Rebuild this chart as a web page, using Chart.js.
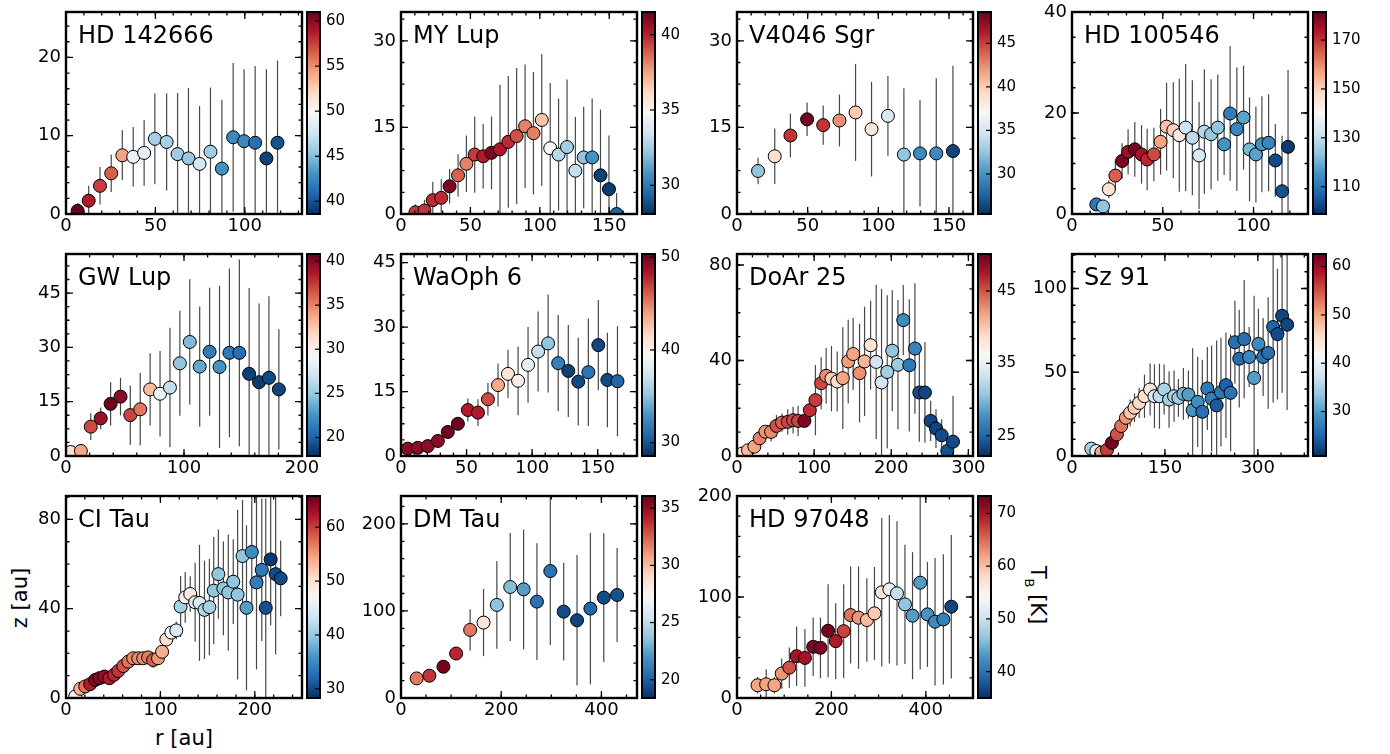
<!DOCTYPE html>
<html>
<head>
<meta charset="utf-8">
<script src="https://cdn.jsdelivr.net/npm/chart.js@4.4.1/dist/chart.umd.min.js"></script>
<style>
body{margin:0;background:#fff;}
#fig{position:relative;width:1390px;height:754px;overflow:hidden;background:#fff;font-family:"DejaVu Sans",sans-serif;}
#fig canvas{position:absolute;}
.lbl{position:absolute;font-size:21px;color:#000;white-space:nowrap;transform:translate(-50%,-50%);}
.lbl sub{font-size:13px;}
</style>
</head>
<body>
<div id="fig">
  <div class="lbl" style="left:20px;top:598px;transform:translate(-50%,-50%) rotate(-90deg);">z [au]</div>
  <div class="lbl" style="left:184px;top:738px;">r [au]</div>
  <div class="lbl" style="left:1036px;top:595px;transform:translate(-50%,-50%) rotate(90deg);">T<sub>B</sub> [K]</div>
</div>
<script>
// r [au], z [au], z error [au], brightness temperature [K] per source

const hd142666R = [6.5,12.7,19,25.3,31.5,37.6,43.7,49.7,56.3,62.4,68.5,74.7,80.8,87.2,93.5,99.6,105.8,112.1,118.3];
const hd142666Z = [0.4,1.7,3.6,5.2,7.5,7.3,7.8,9.6,9.2,7.65,7.1,6.4,7.95,5.8,9.8,9.3,9.1,7.1,9.1];
const hd142666Err = [1.0,1.9,2.4,2.4,3.2,3.8,4.2,5.8,6.2,7.8,9.0,7.4,8.2,8.8,9.5,9.2,9.8,11.4,10.5];
const hd142666T = [61,58.8,57.6,56.5,54.3,49.1,48.8,46,46,45.8,45.5,47.8,45.8,43,42.6,42.6,41.3,39.3,40];
const hd142666TTicks = [40,45,50,55,60];

const myLupR = [10.4,16.9,22.9,29,35,41.1,47.1,53.1,59.2,65.2,71.3,77.3,83.3,89.4,95.4,101.4,107.5,113.5,119.6,125.6,131.6,137.7,143.7,149.8,155.3];
const myLupZ = [0.3,0.6,2.4,2.8,4.8,6.7,8.7,10.3,10.0,10.6,11.2,12.5,13.5,15.2,14.0,16.3,11.4,10.3,11.6,7.5,9.8,9.8,6.7,4.3,0];
const myLupErr = [1.4,1.85,3.2,3.2,3.0,3.65,4.9,6.6,5.6,6.3,11.2,11.4,11.8,10.7,10.6,11.4,11.3,9.7,11.7,9.3,8.8,10.2,11.4,9.3,3.6];
const myLupT = [39.6,39.6,39.8,39.8,41.1,38.8,38.2,39.5,40.2,41.1,40.2,39.8,39.1,38.2,38.2,36.7,34.8,32.9,32.5,33.2,32.1,30.8,28.5,28.4,29.4];
const myLupTTicks = [30,35,40];

const v4046R = [14.9,26.7,37.8,49.6,61.0,72.5,83.9,95.2,106.8,118.1,129.5,141.0,152.8];
const v4046Z = [7.45,10.0,13.6,16.4,15.4,16.2,17.6,14.7,17.0,10.3,10.5,10.5,10.9];
const v4046Err = [2.3,4.8,3.8,2.9,3.4,4.5,8.4,8.2,6.9,11.5,9.2,13.0,14.8];
const v4046T = [32.4,38.9,45.4,48.1,45.4,42.3,40,38.4,35.1,32.4,29.6,29.6,26.3];
const v4046TTicks = [30,35,40,45];

const hd100546R = [13.4,17.1,20.3,23.9,27.6,30.9,34.6,38.3,41.4,45.1,48.8,52.1,55.8,59.1,62.6,66.3,70.0,72.9,76.6,80.3,83.8,87.1,90.8,94.5,97.8,101.3,104.6,108.3,112.0,115.7,119.0];
const hd100546Z = [1.9,1.5,4.9,7.6,10.5,12.3,12.8,11.8,10.8,11.8,14.3,17.3,16.6,15.6,17.1,15.1,11.6,16.3,15.8,17.1,13.8,19.9,16.8,19.1,12.8,11.8,13.8,14.1,10.6,4.5,13.3];
const hd100546Err = [1,1.2,1.8,3,3.5,4.5,5.4,5.8,6.1,5.3,6.5,8.7,9.5,11.2,12.6,11.4,10.6,12.3,10.9,10.5,6.1,13.3,12.2,10.3,10.3,9.5,9.5,9.6,7.2,11,15.2];
const hd100546T = [110.4,123.6,146,165,179,175.7,179.8,174.9,171.6,167.4,156.7,152.6,150.1,144.3,131.9,129.4,133.5,128.6,124.4,123.6,115.3,111.2,112.9,117.8,121.1,117.8,115.3,112.9,103,103.8,100.5];
const hd100546TTicks = [110,130,150,170];

const gwLupR = [3.9,12.6,21.0,29.4,37.8,46.2,54.5,62.9,71.3,79.7,88.1,96.5,104.9,113.3,121.7,130.1,138.5,146.9,155.2,163.6,172.0,180.4];
const gwLupZ = [1.1,1.4,8.1,10.4,14.4,16.4,11.3,12.9,18.4,17.2,18.9,25.6,31.5,24.7,28.8,24.6,28.5,28.5,22.7,20.4,21.6,18.4];
const gwLupErr = [1,1.4,3.7,3,6,5.2,8.2,10,10,11.8,16.5,14.5,17.3,16.6,17.7,22.4,23.3,25.8,23.7,21.7,22.5,16.6];
const gwLupT = [31,33.9,36.9,39.2,40.6,39.7,37.1,35.5,33,28.7,26.6,24.8,24.3,23.4,21.3,22.5,21.1,20.6,18.6,18.4,19,18.8];
const gwLupTTicks = [20,25,30,35,40];

const waOph6R = [5.1,12.8,20.4,28.1,35.7,43.4,51.0,58.7,66.3,74.0,81.6,89.3,96.9,104.6,112.2,119.9,127.6,135.2,142.9,150.5,157.4,165.1];
const waOph6Z = [1.7,1.9,2.3,3.5,5.6,7.5,10.7,10.1,13.2,16.5,19.1,17.5,21.2,24.3,26.2,21.6,19.8,17.3,19.5,25.8,17.7,17.4];
const waOph6Err = [0.6,0.6,0.7,0.8,1,1.5,2.7,3.1,3.8,5,5.6,8,8.8,9.3,11.4,11.2,10.7,10.2,12.5,10.5,11,12.8];
const waOph6T = [49.3,49.3,49.3,49.3,50.1,50.1,48.2,48.2,46.6,43.6,40.8,40.1,38.6,36.8,35.1,32,29.2,29.6,31.4,29.4,29.6,30.7];
const waOph6TTicks = [30,40,50];

const doAr25R = [6.5,14.3,22.5,29.4,36.8,44.2,51.1,58.4,65.8,72.7,79.2,87.4,94.4,101.7,109.1,115.6,122.5,129.9,137.2,144.2,150.6,158.9,165.4,173.2,180.5,187.4,194.8,201.3,208.7,215.6,223.4,230.7,236.4,243.7,251.1,258.0,265.4,272.7,280.1];
const doAr25Z = [1.0,2.4,3.9,7.4,10.2,10.1,12.6,14.0,14.3,15.0,14.7,14.7,19.2,23.4,30.5,33.6,32.4,31.2,32.6,39.6,42.7,34.7,39.6,46.4,39.4,30.8,35.2,44.1,38.2,56.9,38.0,45.0,26.6,26.6,14.7,11.5,8.7,2.1,6.0];
const doAr25Err = [1,1.5,2,2,2.4,4,4.6,3.8,5.3,5.6,6.3,2.4,5.3,14.7,10.9,11.6,13.7,12.6,21.3,17.5,15.1,20.7,22.9,18.6,32.3,39.2,32.1,25.3,27.1,14.7,27.7,27.3,20.6,21.1,8.4,8.1,6.7,4.9,19.2];
const doAr25T = [38.4,40.6,41.7,43.1,42.3,42.8,45.1,44.5,45.6,45.6,45.6,49.3,46.5,45.9,45.4,42.8,39.8,38.4,41.7,42,41.7,42.6,40.9,38.1,33.4,33.4,31.4,30.6,31.1,27.2,26.1,26.7,23.6,23.3,23.3,23.3,23.6,23.9,23.6];
const doAr25TTicks = [25,35,45];

const sz91R = [31.1,39.2,47.2,56.4,64.4,72.5,79.4,87.0,93.9,100.9,108.4,117.0,126.1,133.1,141.2,148.7,156.7,164.8,171.8,179.8,187.9,194.8,202.9,210.4,218.5,225.4,233.5,240.5,248.5,256.0,263.0,270.0,278.0,286.0,294.0,301.0,308.6,316.7,324.7,331.7,339.2,347.3];
const sz91Z = [4.4,3.0,2.0,3.6,7.9,12.9,17.9,22.8,25.8,28.8,31.7,35.7,39.7,35.7,35.7,39.7,33.7,35.7,34.7,37.1,36.7,27.4,32.3,26.4,40.3,34.3,30.2,38.1,42.3,37.7,67.9,58.1,69.8,59.1,46.6,66.9,59.1,61.5,77.0,72.8,83.7,78.4];
const sz91Err = [1.5,1,1,1.5,2,3,4,5,8,8.5,9,12.9,15.5,19,19.4,14.9,16.9,15.3,11.3,15.5,14.3,37,27,31,24.8,31.6,38.7,32.5,31.5,34.9,24.8,29.2,35.3,17.9,49,21,23.3,33.3,45,39,46,51];
const sz91T = [34.6,39.6,50.1,56.3,61.8,55.1,53,50.9,47.6,46.7,45.9,45,43.8,38.8,36.3,35,34.6,35,34.2,32.1,30,29.2,28.7,25.8,26.7,27.1,24.1,26.7,24.6,26.2,25.8,25.4,25.8,27.9,30,28.3,26.2,25.8,25,22.9,22.5,22.5];
const sz91TTicks = [30,40,50,60];

const ciTauR = [9.8,15.1,20.4,25.6,30.9,35.4,40.7,46.0,50.9,55.4,60.7,66.0,71.2,76.5,81.8,87.0,92.3,97.5,101.8,106.3,111.6,116.8,121.4,126.3,131.6,136.8,141.4,146.7,151.9,156.5,161.4,166.7,171.9,177.2,181.8,187.0,191.2,196.8,201.8,207.4,211.6,216.8,222.1,227.4];
const ciTauZ = [0.7,4.1,5.2,6.2,8.1,8.9,9.6,8.9,10.4,12.1,14.3,16.3,17.8,17.8,17.8,18.2,17.0,17.8,20.7,26.2,29.3,30.3,41.0,45.1,46.6,42.9,42.6,39.5,40.7,48.1,55.5,49.1,47.3,52.1,46.3,63.6,40.4,65.4,51.8,57.4,40.4,62.1,55.5,53.6];
const ciTauErr = [0.5,1,1,1,1.2,1.2,1.2,1.3,1.5,1.5,1.5,1.5,1.8,2,2,2.5,3.5,3,2.5,2.5,3,4,13.7,11.4,8,17.7,26,22,21.6,24,20,21,26,19,38,25.2,37,25,39,32,49,29.5,36,17];
const ciTauT = [47.8,53.8,57.2,62,64.3,64.3,63.6,62,61.3,60.5,59,57.2,56,56,56,56.8,58.3,55.3,53.8,50,47,44,40.7,48.2,48.9,44.8,44.4,41.4,40.7,39.6,39.6,39.6,39.6,39.6,39.6,39.6,36.5,35.1,33.9,33.6,30.6,29,30.2,30.2];
const ciTauTTicks = [30,40,50,60];

const dmTauR = [31.3,56.7,84.7,110,138,164.7,191.3,218,244.7,271.3,298,324.7,351.3,378,404.7,431.3];
const dmTauZ = [22.5,25.6,35.9,51.1,78.2,86.6,106.9,127.5,124.8,110.7,145.8,99.2,89.3,102.7,115.3,118.3];
const dmTauErr = [2,2,3,4,23.7,38.5,50.4,62,68.7,67,85,56,75,87,74,54];
const dmTauT = [31.9,33.6,35.7,34,31.9,28.3,23.7,23.4,22.3,20.7,20.7,19.3,19.1,20.2,19.3,19.5];
const dmTauTTicks = [20,25,30,35];

const hd97048R = [43.5,61.8,79.3,94.7,110.9,126.3,143.9,161.4,176.8,193.0,209.1,226,240.7,257.5,275.1,291.2,306.7,322.8,339,355.8,371.9,388.1,403.5,419.6,437.2,454];
const hd97048Z = [12.6,13.6,12.6,24.2,30.1,41.4,39.7,50.7,49.7,66.6,56.3,66.2,82.1,79.5,77.2,83.8,104.6,107.6,103.6,92.7,81.5,114.2,82.8,75.5,77.8,90.4];
const hd97048Err = [8.3,14.9,8.3,15,20,29.5,28.5,29,30,46,37.4,46.4,48,50.7,41.4,46,73.5,73.5,71.5,59,62.9,86,52,63,64.5,71];
const hd97048T = [61.8,61.8,61.8,62.6,66.4,70.2,70.2,72.2,72.2,72.5,69.5,67.2,64.5,62.6,60.3,59.1,56.4,52.2,49.6,46.5,43.4,43.4,42.7,41.9,41.1,36.5];
const hd97048TTicks = [40,50,60,70];

const panels = [
  {name:'HD 142666', r:hd142666R, z:hd142666Z, err:hd142666Err, t:hd142666T, tTicks:hd142666TTicks, xMax:132, xStep:50, yMax:25.8, yStep:10, tMin:38.6, tMax:61},
  {name:'MY Lup', r:myLupR, z:myLupZ, err:myLupErr, t:myLupT, tTicks:myLupTTicks, xMax:170, xStep:50, yMax:35, yStep:15, tMin:28.1, tMax:41.5},
  {name:'V4046 Sgr', r:v4046R, z:v4046Z, err:v4046Err, t:v4046T, tTicks:v4046TTicks, xMax:167, xStep:50, yMax:35, yStep:15, tMin:25.4, tMax:48.6},
  {name:'HD 100546', r:hd100546R, z:hd100546Z, err:hd100546Err, t:hd100546T, tTicks:hd100546TTicks, xMax:130, xStep:50, yMax:40, yStep:20, tMin:98.8, tMax:181.5},
  {name:'GW Lup', r:gwLupR, z:gwLupZ, err:gwLupErr, t:gwLupT, tTicks:gwLupTTicks, xMax:200, xStep:100, yMax:55.8, yStep:15, tMin:17.9, tMax:40.8},
  {name:'WaOph 6', r:waOph6R, z:waOph6Z, err:waOph6Err, t:waOph6T, tTicks:waOph6TTicks, xMax:180, xStep:50, yMax:47, yStep:15, tMin:28.55, tMax:50.36},
  {name:'DoAr 25', r:doAr25R, z:doAr25Z, err:doAr25Err, t:doAr25T, tTicks:doAr25TTicks, xMax:306, xStep:100, yMax:84.6, yStep:40, tMin:22.2, tMax:50.1},
  {name:'Sz 91', r:sz91R, z:sz91Z, err:sz91Err, t:sz91T, tTicks:sz91TTicks, xMax:381, xStep:150, yMax:120.6, yStep:50, tMin:20.8, tMax:62.6},
  {name:'CI Tau', r:ciTauR, z:ciTauZ, err:ciTauErr, t:ciTauT, tTicks:ciTauTTicks, xMax:250, xStep:100, yMax:90.5, yStep:40, tMin:28.3, tMax:65.8},
  {name:'DM Tau', r:dmTauR, z:dmTauZ, err:dmTauErr, t:dmTauT, tTicks:dmTauTTicks, xMax:471, xStep:200, yMax:232, yStep:100, tMin:18.4, tMax:36.07},
  {name:'HD 97048', r:hd97048R, z:hd97048Z, err:hd97048Err, t:hd97048T, tTicks:hd97048TTicks, xMax:500, xStep:200, yMax:200, yStep:100, tMin:35, tMax:73.3}
];

// RdBu_r, low -> high
const rdbu = ['#053061','#2166ac','#4393c3','#92c5de','#d1e5f0','#f7f7f7','#fddbc7','#f4a582','#d6604d','#b2182b','#67001f'];

function hexRgb(h){
  return [1,3,5].map(i => parseInt(h.substr(i,2),16));
}

function tempColor(t, lo, hi){
  let f = Math.min(1, Math.max(0, (t-lo)/(hi-lo))) * (rdbu.length-1);
  const i = Math.min(rdbu.length-2, Math.floor(f)), w = f - i;
  const a = hexRgb(rdbu[i]), b = hexRgb(rdbu[i+1]);
  const c = a.map((v,k) => Math.round(v + (b[k]-v)*w));
  return 'rgb(' + c.join(',') + ')';
}

function minorCount(step){
  const m = step / Math.pow(10, Math.floor(Math.log10(step)));
  return [1,5,10].some(v => Math.abs(m-v) < 1e-6) ? 5 : 4;
}

const COL_X = [66, 401, 737, 1072];
const ROW_Y = [12, 254, 496];
const FW = 236, FH = 202;
const PAD_L = 60, PAD_T = 12, PAD_R = 24, PAD_B = 32;
const FONT = 'DejaVu Sans';

const errorBars = {
  id: 'errorBars',
  beforeDatasetsDraw(chart){
    const {ctx, chartArea:a, scales:{x, y}} = chart;
    ctx.save();
    ctx.beginPath();
    ctx.rect(a.left, a.top, a.width, a.height);
    ctx.clip();
    ctx.strokeStyle = 'rgba(0,0,0,0.72)';
    ctx.lineWidth = 1.2;
    chart.data.datasets[0].data.forEach(p => {
      const px = x.getPixelForValue(p.x);
      ctx.beginPath();
      ctx.moveTo(px, y.getPixelForValue(p.y - p.e));
      ctx.lineTo(px, y.getPixelForValue(p.y + p.e));
      ctx.stroke();
    });
    ctx.restore();
  }
};

const frameTicks = {
  id: 'frameTicks',
  afterDraw(chart, args, opts){
    const {ctx, chartArea:a, scales} = chart;
    ctx.save();
    ctx.strokeStyle = '#000';
    ctx.lineWidth = 1.3;
    ['x','y'].forEach(id => {
      const s = scales[id];
      const step = s.options.ticks.stepSize;
      const sub = step / minorCount(step);
      const mark = (v, len) => {
        const p = s.getPixelForValue(v);
        ctx.beginPath();
        if(id === 'x'){
          ctx.moveTo(p, a.bottom); ctx.lineTo(p, a.bottom - len);
          ctx.moveTo(p, a.top); ctx.lineTo(p, a.top + len);
        } else {
          ctx.moveTo(a.left, p); ctx.lineTo(a.left + len, p);
          ctx.moveTo(a.right, p); ctx.lineTo(a.right - len, p);
        }
        ctx.stroke();
      };
      for(let k = 0; k*sub <= s.max + 1e-9; k++) mark(k*sub, 3.5);
      s.ticks.forEach(t => mark(t.value, 7));
    });
    ctx.lineWidth = 2.4;
    ctx.strokeRect(a.left, a.top, a.width, a.height);
    ctx.fillStyle = '#000';
    ctx.font = '24px "' + FONT + '"';
    ctx.textBaseline = 'alphabetic';
    ctx.fillText(opts.title, a.left + 12, a.top + 31);
    ctx.restore();
  }
};

const colorbarFill = {
  id: 'colorbarFill',
  beforeDraw(chart){
    const {ctx, chartArea:a} = chart;
    const g = ctx.createLinearGradient(0, a.bottom, 0, a.top);
    rdbu.forEach((c,i) => g.addColorStop(i/(rdbu.length-1), c));
    ctx.save();
    ctx.fillStyle = g;
    ctx.fillRect(a.left, a.top, a.width, a.height);
    ctx.restore();
  },
  afterDraw(chart){
    const {ctx, chartArea:a, scales:{y}} = chart;
    ctx.save();
    ctx.strokeStyle = '#000';
    ctx.lineWidth = 1.2;
    y.ticks.forEach(t => {
      const p = y.getPixelForValue(t.value);
      ctx.beginPath();
      ctx.moveTo(a.right, p); ctx.lineTo(a.right - 5, p);
      ctx.stroke();
    });
    ctx.lineWidth = 2;
    ctx.strokeRect(a.left + 1, a.top, a.width - 1, a.height);
    ctx.restore();
  }
};

function makeCanvas(left, top, w, h){
  const c = document.createElement('canvas');
  c.width = w; c.height = h;
  c.style.left = left + 'px'; c.style.top = top + 'px';
  c.style.width = w + 'px'; c.style.height = h + 'px';
  document.getElementById('fig').appendChild(c);
  return c;
}

function axisOpts(max, step, dir){
  return {
    type: 'linear', min: 0, max: max,
    grid: {display: false, drawTicks: false},
    border: {display: false},
    ticks: {stepSize: step, includeBounds: false, autoSkip: false, maxRotation: 0,
            color: '#000', padding: dir === 'x' ? 2 : 5, font: {family: FONT, size: 18}},
    afterBuildTicks(s){
      const t = [];
      for(let k = 0; k*step <= max + 1e-9; k++) t.push({value: k*step});
      s.ticks = t;
    },
    afterFit(s){
      if(dir === 'x') s.height = PAD_B; else s.width = PAD_L;
      s.paddingLeft = s.paddingRight = s.paddingTop = s.paddingBottom = 0;
    }
  };
}

panels.forEach((p, i) => {
  const fx = COL_X[i % 4], fy = ROW_Y[Math.floor(i / 4)];

  const cv = makeCanvas(fx - PAD_L, fy - PAD_T, PAD_L + FW + PAD_R, PAD_T + FH + PAD_B);
  new Chart(cv, {
    type: 'scatter',
    data: {datasets: [{
      data: p.r.map((r, k) => ({x: r, y: p.z[k], e: p.err[k]})),
      pointRadius: 6.5, pointHoverRadius: 6.5,
      pointBackgroundColor: p.t.map(t => tempColor(t, p.tMin, p.tMax)),
      pointBorderColor: '#000', pointBorderWidth: 1,
      clip: 0
    }]},
    options: {
      responsive: false, animation: false, events: [],
      layout: {padding: {left: 0, top: PAD_T, right: PAD_R, bottom: 0}},
      plugins: {legend: {display: false}, tooltip: {enabled: false}, frameTicks: {title: p.name}},
      scales: {x: axisOpts(p.xMax, p.xStep, 'x'), y: axisOpts(p.yMax, p.yStep, 'y')}
    },
    plugins: [errorBars, frameTicks]
  });

  const cb = makeCanvas(fx + 240, fy - PAD_T, 14 + 44, PAD_T + FH + 12);
  new Chart(cb, {
    type: 'scatter',
    data: {datasets: []},
    options: {
      responsive: false, animation: false, events: [],
      layout: {padding: {left: 0, top: PAD_T, right: 0, bottom: 12}},
      plugins: {legend: {display: false}, tooltip: {enabled: false}},
      scales: {
        x: {display: false, min: 0, max: 1},
        y: {position: 'right', min: p.tMin, max: p.tMax,
            grid: {display: false, drawTicks: false}, border: {display: false},
            ticks: {color: '#000', padding: 6, font: {family: FONT, size: 15}},
            afterBuildTicks(s){ s.ticks = p.tTicks.map(v => ({value: v})); },
            afterFit(s){ s.width = 44; s.paddingTop = s.paddingBottom = 0; }}
      }
    },
    plugins: [colorbarFill]
  });
});
</script>
</body>
</html>
